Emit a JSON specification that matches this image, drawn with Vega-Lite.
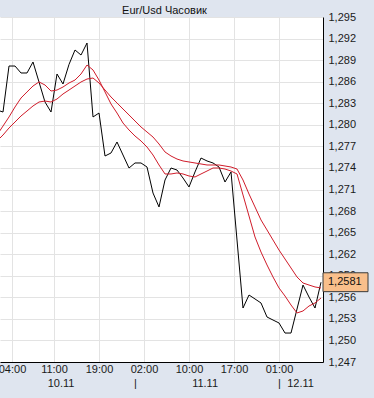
{
  "$schema": "https://vega.github.io/schema/vega-lite/v6.json",
  "width": 323,
  "height": 345,
  "autosize": {"type": "none"},
  "padding": {"left": 0, "top": 17, "right": 51, "bottom": 36},
  "background": "#dfe5ef",
  "title": {"text": "Eur/Usd Часовик", "fontSize": 11, "fontWeight": "normal", "font": "Liberation Sans", "color": "#111111", "anchor": "middle", "offset": 3, "dx": 3, "dy": 8},
  "config": {
    "view": {"stroke": null, "fill": "#ffffff"},
    "locale": {"number": {"decimal": ",", "thousands": " ", "grouping": [3], "currency": ["", ""]}},
    "axis": {"labelFont": "Liberation Sans", "labelFontSize": 11, "labelColor": "#1a1a1a", "gridColor": "#e3e3e3", "gridWidth": 1, "domainColor": "#000000", "domainWidth": 1, "ticks": false, "title": null}
  },
  "data": {"values": [
    {"n": -1, "p": 1.28206, "f": 1.27858, "s": 1.27775},
    {"n": 0, "p": 1.28178, "f": 1.27983, "s": 1.27858},
    {"n": 1, "p": 1.28818, "f": 1.28109, "s": 1.27956},
    {"n": 2, "p": 1.28818, "f": 1.28248, "s": 1.28039},
    {"n": 3, "p": 1.28721, "f": 1.28373, "s": 1.28123},
    {"n": 4, "p": 1.28721, "f": 1.28457, "s": 1.28192},
    {"n": 5, "p": 1.28874, "f": 1.2854, "s": 1.28262},
    {"n": 6, "p": 1.28596, "f": 1.28596, "s": 1.28317},
    {"n": 7, "p": 1.28317, "f": 1.28554, "s": 1.28331},
    {"n": 8, "p": 1.28178, "f": 1.2847, "s": 1.28317},
    {"n": 9, "p": 1.28707, "f": 1.28484, "s": 1.28359},
    {"n": 10, "p": 1.28568, "f": 1.28526, "s": 1.28429},
    {"n": 11, "p": 1.2884, "f": 1.28582, "s": 1.28484},
    {"n": 12, "p": 1.29041, "f": 1.28623, "s": 1.2854},
    {"n": 13, "p": 1.28971, "f": 1.28707, "s": 1.28596},
    {"n": 14, "p": 1.29138, "f": 1.28832, "s": 1.28637},
    {"n": 15, "p": 1.28109, "f": 1.28763, "s": 1.28651},
    {"n": 16, "p": 1.28164, "f": 1.28623, "s": 1.28582},
    {"n": 17, "p": 1.27566, "f": 1.28457, "s": 1.28484},
    {"n": 18, "p": 1.27608, "f": 1.2829, "s": 1.28387},
    {"n": 19, "p": 1.27761, "f": 1.28164, "s": 1.28304},
    {"n": 20, "p": 1.2758, "f": 1.28025, "s": 1.2822},
    {"n": 21, "p": 1.27399, "f": 1.27928, "s": 1.28137},
    {"n": 22, "p": 1.27469, "f": 1.27844, "s": 1.28053},
    {"n": 23, "p": 1.27469, "f": 1.27775, "s": 1.2797},
    {"n": 24, "p": 1.27413, "f": 1.27691, "s": 1.279},
    {"n": 25, "p": 1.27051, "f": 1.2758, "s": 1.2783},
    {"n": 26, "p": 1.26857, "f": 1.27441, "s": 1.27733},
    {"n": 27, "p": 1.27232, "f": 1.27316, "s": 1.27622},
    {"n": 28, "p": 1.27399, "f": 1.27316, "s": 1.27566},
    {"n": 29, "p": 1.27371, "f": 1.2733, "s": 1.27524},
    {"n": 30, "p": 1.2726, "f": 1.27316, "s": 1.27497},
    {"n": 31, "p": 1.27135, "f": 1.27288, "s": 1.27483},
    {"n": 32, "p": 1.27344, "f": 1.27274, "s": 1.27469},
    {"n": 33, "p": 1.27538, "f": 1.27316, "s": 1.27455},
    {"n": 34, "p": 1.27497, "f": 1.27357, "s": 1.27441},
    {"n": 35, "p": 1.27469, "f": 1.27399, "s": 1.27441},
    {"n": 36, "p": 1.27413, "f": 1.27399, "s": 1.27441},
    {"n": 37, "p": 1.27204, "f": 1.27385, "s": 1.27427},
    {"n": 38, "p": 1.27344, "f": 1.27357, "s": 1.27413},
    {"n": 39, "p": 1.26397, "f": 1.27316, "s": 1.27385},
    {"n": 40, "p": 1.25451, "f": 1.27024, "s": 1.27232},
    {"n": 41, "p": 1.25632, "f": 1.26731, "s": 1.27037},
    {"n": 42, "p": 1.25577, "f": 1.26439, "s": 1.26857},
    {"n": 43, "p": 1.25521, "f": 1.2623, "s": 1.26676},
    {"n": 44, "p": 1.25326, "f": 1.2605, "s": 1.26537},
    {"n": 45, "p": 1.25284, "f": 1.25883, "s": 1.26397},
    {"n": 46, "p": 1.25243, "f": 1.2573, "s": 1.26258},
    {"n": 47, "p": 1.25103, "f": 1.25618, "s": 1.26133},
    {"n": 48, "p": 1.25103, "f": 1.25493, "s": 1.26008},
    {"n": 49, "p": 1.25437, "f": 1.25382, "s": 1.25883},
    {"n": 50, "p": 1.25771, "f": 1.2541, "s": 1.25799},
    {"n": 51, "p": 1.25604, "f": 1.25479, "s": 1.25771},
    {"n": 52, "p": 1.25451, "f": 1.25521, "s": 1.25744},
    {"n": 53, "p": 1.2581, "f": 1.2559, "s": 1.2573}
  ]},
  "resolve": {"axis": {"x": "independent"}},
  "layer": [
    {
      "mark": {"type": "line", "color": "#000000", "strokeWidth": 1, "clip": true},
      "encoding": {
        "x": {"field": "n", "type": "quantitative", "scale": {"domain": [-0.5, 53.333], "nice": false, "zero": false},
          "axis": {"orient": "bottom", "values": [1.5, 8.5, 16, 23.5, 31, 38.5, 46], "tickCount": 20, "grid": true, "labelPadding": 1, "labelFlush": false, "labelOverlap": false, "labelBound": false,
            "labelExpr": "datum.value < 5 ? '04:00' : datum.value < 12 ? '11:00' : datum.value < 20 ? '19:00' : datum.value < 27 ? '02:00' : datum.value < 35 ? '10:00' : datum.value < 42 ? '17:00' : '01:00'"}},
        "y": {"field": "p", "type": "quantitative", "scale": {"domain": [1.247, 1.295], "nice": false, "zero": false},
          "axis": {"orient": "right", "values": [1.247, 1.25, 1.253, 1.256, 1.259, 1.262, 1.265, 1.268, 1.271, 1.274, 1.277, 1.28, 1.283, 1.286, 1.289, 1.292, 1.295], "tickCount": 40, "format": ".3f", "grid": true, "labelPadding": 5, "labelFlush": false, "labelOverlap": false, "labelBound": false}}
      }
    },
    {
      "mark": {"type": "line", "color": "#d01c2a", "strokeWidth": 1, "clip": true},
      "encoding": {
        "x": {"field": "n", "type": "quantitative",
          "axis": {"orient": "bottom", "values": [9.6, 22, 33.6, 46, 49.5], "tickCount": 20, "grid": false, "domain": false, "labelPadding": 15, "labelFlush": false, "labelOverlap": false, "labelBound": false,
            "labelExpr": "datum.value < 15 ? '10.11' : datum.value < 30 ? '|' : datum.value < 40 ? '11.11' : datum.value < 48 ? '|' : '12.11'"}},
        "y": {"field": "f", "type": "quantitative"}
      }
    },
    {
      "mark": {"type": "line", "color": "#d01c2a", "strokeWidth": 1, "clip": true},
      "encoding": {
        "x": {"field": "n", "type": "quantitative", "axis": null},
        "y": {"field": "s", "type": "quantitative"}
      }
    },
    {
      "transform": [{"filter": "datum.n == 53"}],
      "mark": {"type": "point", "shape": "M-1,-0.42H1V0.42H-1Z", "size": 2025, "filled": true, "fill": "#f9bf8b", "stroke": "#3a3a3a", "strokeWidth": 1, "opacity": 1, "fillOpacity": 1, "xOffset": 24.5},
      "encoding": {
        "x": {"field": "n", "type": "quantitative", "axis": null},
        "y": {"field": "p", "type": "quantitative"}
      }
    },
    {
      "transform": [{"filter": "datum.n == 53"}],
      "mark": {"type": "text", "align": "left", "baseline": "middle", "dx": 7, "font": "Liberation Sans", "fontSize": 11, "color": "#111111"},
      "encoding": {
        "x": {"field": "n", "type": "quantitative", "axis": null},
        "y": {"field": "p", "type": "quantitative"},
        "text": {"field": "p", "type": "quantitative", "format": ".4f"}
      }
    }
  ]
}
